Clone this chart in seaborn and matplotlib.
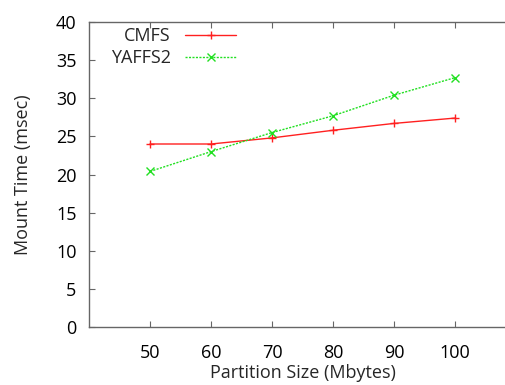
import pandas as pd
import matplotlib
matplotlib.use("Agg")
import matplotlib.pyplot as plt
import seaborn as sns

# partition sizes (Mbytes) and mount times (msec)
sizes = [50, 60, 70, 80, 90, 100]
cmfs = [24.0, 24.0, 24.8, 25.8, 26.7, 27.4]
yaffs2 = [20.4, 23.0, 25.5, 27.7, 30.4, 32.7]
series_names = ["CMFS", "YAFFS2"]

df = pd.DataFrame({
    "size": sizes * 2,
    "time": cmfs + yaffs2,
    "fs": [series_names[0]] * len(sizes) + [series_names[1]] * len(sizes),
})

sns.set_theme(style="ticks")
plt.rcParams["font.family"] = ["Open Sans", "DejaVu Sans"]

fig = plt.figure(figsize=(5.05, 3.85), dpi=100)
ax = fig.add_axes([89 / 505, 58 / 385, 427 / 505, 305 / 385])

sns.lineplot(data=df, x="size", y="time", hue="fs", style="fs", ax=ax,
             palette={"CMFS": "#ff2020", "YAFFS2": "#22e022"},
             markers={"CMFS": "+", "YAFFS2": "x"},
             dashes={"CMFS": "", "YAFFS2": (1.5, 1)},
             markersize=6, markeredgewidth=1.0, linewidth=1.0)

ax.set_xlim(40, 110)
ax.set_ylim(0, 40)
ax.set_xticks(sizes)
ax.set_yticks(range(0, 41, 5))
ax.set_xlabel("Partition Size (Mbytes)", fontsize=13, labelpad=2)
ax.set_ylabel("Mount Time (msec)", fontsize=13, labelpad=17)
ax.tick_params(axis="both", direction="in", length=4, width=0.8, colors="#666666",
               labelcolor="black", labelsize=13, top=True, right=True)
ax.tick_params(axis="y", pad=9)
ax.tick_params(axis="x", pad=12)
for s in ax.spines.values():
    s.set_color("#666666")
    s.set_linewidth(1.0)

leg = ax.legend(loc="upper left", markerfirst=False, frameon=False, fontsize=13,
                handlelength=2.8, handletextpad=0.8, labelspacing=0.2,
                bbox_to_anchor=(0.03, 1.012), borderaxespad=0.1)

# '+' and 'x' markers need their edge coloured like the line
for line in list(ax.lines) + list(leg.get_lines()):
    line.set_markeredgecolor(line.get_color())

fig.savefig("out.png", dpi=100)
